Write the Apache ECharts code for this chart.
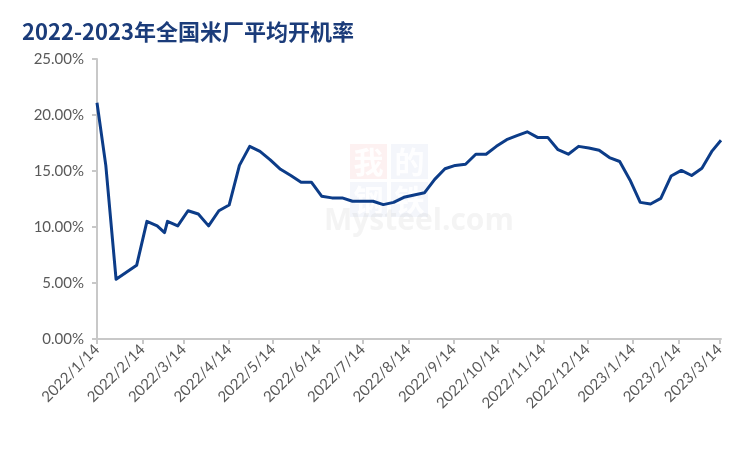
<!DOCTYPE html>
<html>
<head>
<meta charset="utf-8">
<script src="https://cdn.jsdelivr.net/npm/echarts@6/dist/echarts.min.js"></script>
<style>
html,body{margin:0;padding:0;background:#fff;}
#c{width:750px;height:450px;}
</style>
</head>
<body>
<div id="c"></div>
<script>
const titleText = '2022-2023年全国米厂平均开机率';
const axisStart = '2022/1/14';
const axisEnd = '2023/3/15';
const yTicks = [0, 5, 10, 15, 20, 25];
const dates = [
  '2022/1/14','2022/1/20','2022/1/27','2022/2/10','2022/2/17','2022/2/24','2022/3/1','2022/3/3',
  '2022/3/10','2022/3/17','2022/3/24','2022/3/31','2022/4/7','2022/4/14','2022/4/21','2022/4/28',
  '2022/5/5','2022/5/12','2022/5/19','2022/5/26','2022/6/2','2022/6/9','2022/6/16','2022/6/23',
  '2022/6/30','2022/7/7','2022/7/14','2022/7/21','2022/7/28','2022/8/4','2022/8/11','2022/8/18',
  '2022/8/25','2022/9/1','2022/9/8','2022/9/15','2022/9/22','2022/9/29','2022/10/6','2022/10/13',
  '2022/10/20','2022/10/27','2022/11/3','2022/11/10','2022/11/17','2022/11/24','2022/12/1','2022/12/8',
  '2022/12/15','2022/12/22','2022/12/29','2023/1/5','2023/1/12','2023/1/19','2023/1/26','2023/2/2',
  '2023/2/9','2023/2/16','2023/2/23','2023/3/2','2023/3/9','2023/3/15'
];
const values = [
  21.1,15.5,5.33,6.58,10.5,10.1,9.5,10.5,
  10.1,11.45,11.16,10.1,11.45,11.96,15.5,17.2,
  16.75,16.0,15.15,14.6,14.0,14.0,12.75,12.6,
  12.6,12.3,12.3,12.3,12.0,12.2,12.65,12.85,
  13.05,14.25,15.2,15.5,15.6,16.5,16.5,17.2,
  17.8,18.15,18.5,18.0,18.0,16.9,16.5,17.2,
  17.05,16.85,16.2,15.85,14.2,12.2,12.05,12.55,
  14.55,15.05,14.6,15.25,16.8,17.75
];

// daily category axis so that monthly ticks fall on the 14th
function fmt(d){return d.getFullYear()+'/'+(d.getMonth()+1)+'/'+d.getDate();}
function parse(s){const p=s.split('/').map(Number);return new Date(p[0],p[1]-1,p[2]);}
const cats = [];
for (let d = parse(axisStart); d <= parse(axisEnd); d = new Date(d.getFullYear(), d.getMonth(), d.getDate()+1)) {
  cats.push(fmt(d));
}
const isTick = (i, v) => /\/14$/.test(v);

function wmSquare(x, y, ch, bg) {
  return {type: 'group', left: x, top: y, silent: true, children: [
    {type: 'rect', shape: {x: 0, y: 0, width: 37, height: 35}, style: {fill: bg}},
    {type: 'text', x: 18.5, y: 17.5, style: {text: ch, fill: 'rgba(255,255,255,0.9)', font: 'bold 30px "Noto Sans CJK SC"', align: 'center', verticalAlign: 'middle'}}
  ]};
}

const chart = echarts.init(document.getElementById('c'));
chart.setOption({
  backgroundColor: '#ffffff',
  animation: false,
  title: {
    text: titleText,
    left: 17, top: 16,
    textStyle: {color: '#1B3C7A', fontSize: 22, fontWeight: 'bold', fontFamily: 'Noto Sans CJK SC'}
  },
  graphic: [
    wmSquare(350, 144, '我', 'rgba(240,120,120,0.10)'),
    wmSquare(391, 144, '的', 'rgba(120,140,210,0.08)'),
    wmSquare(350, 182, '钢', 'rgba(120,140,210,0.08)'),
    wmSquare(391, 182, '铁', 'rgba(120,140,210,0.08)'),
    {type: 'text', left: 324, top: 206, silent: true, style: {text: 'Mysteel.com', fill: 'rgba(150,150,150,0.10)', font: 'bold 30px "Open Sans"'}}
  ],
  grid: {left: 97, right: 29, top: 59, bottom: 111},
  xAxis: {
    type: 'category',
    data: cats,
    boundaryGap: false,
    axisLine: {lineStyle: {color: '#C8C8C8', width: 2}},
    axisTick: {show: true, interval: isTick, length: 5, lineStyle: {color: '#C8C8C8', width: 2}},
    axisLabel: {interval: isTick, rotate: 45, margin: 8, color: '#595959', fontSize: 15, fontFamily: 'Lato'},
    splitLine: {show: false}
  },
  yAxis: {
    type: 'value',
    min: yTicks[0], max: yTicks[yTicks.length-1], interval: 5,
    axisLine: {show: true, lineStyle: {color: '#C8C8C8', width: 2}},
    axisTick: {show: true, length: 5, lineStyle: {color: '#C8C8C8', width: 2}},
    axisLabel: {color: '#595959', fontSize: 15, fontFamily: 'Lato', margin: 13,
      formatter: v => v.toFixed(2) + '%'},
    splitLine: {show: false}
  },
  series: [{
    type: 'line',
    data: dates.map((d, i) => [d, values[i]]),
    showSymbol: false,
    symbol: 'none',
    lineStyle: {color: '#0C3C88', width: 3, join: 'round'},
    clip: true
  }]
});
</script>
</body>
</html>
